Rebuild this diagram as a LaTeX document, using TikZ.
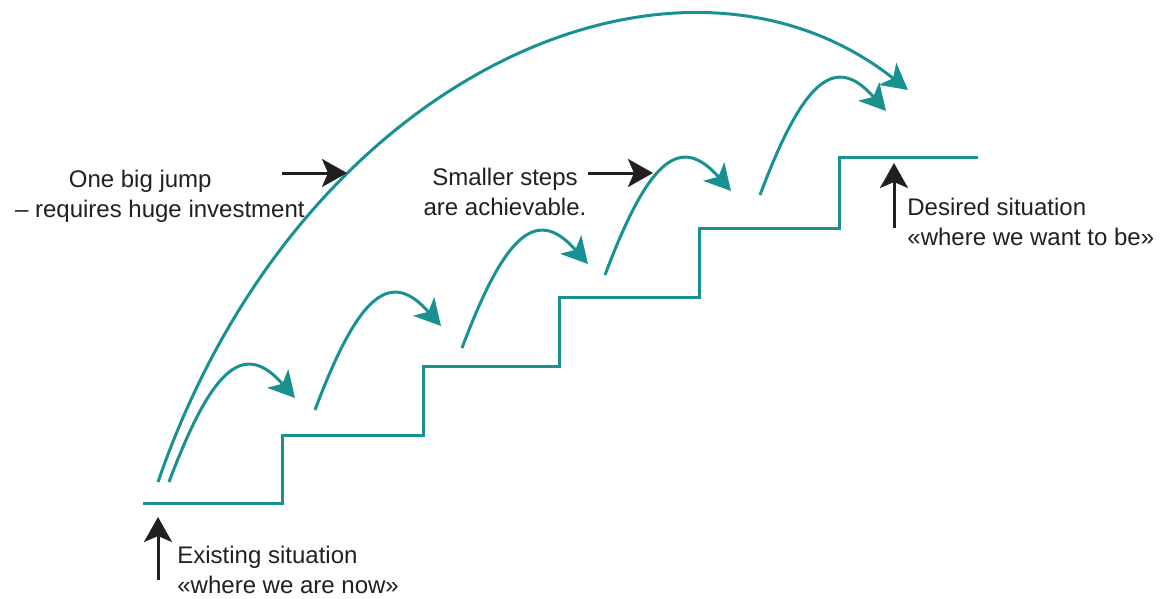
\documentclass[tikz,border=0pt]{standalone}
\usepackage{fontspec}
\setmainfont{Liberation Sans}
\usetikzlibrary{arrows.meta}
\definecolor{stairteal}{RGB}{26,145,145}
\definecolor{inkblack}{RGB}{35,31,32}

\begin{document}
\begin{tikzpicture}[x=0.5pt,y=-0.5pt,
    stair/.style={stairteal, line width=1.5pt},
    hop/.style={stairteal, line width=1.5pt, -{Stealth[length=13pt,width=14pt,inset=3.5pt]}},
    pointer/.style={inkblack, line width=1.5pt, -{Stealth[length=12.5pt,width=14pt,inset=3pt]}},
    note/.style={inkblack, inner sep=0pt, font=\fontsize{12}{15}\selectfont}]
  \useasboundingbox (0,0) rectangle (1162,599);

  \draw[stair] (143,503) -- (282,503) -- (282,435) -- (423,435) -- (423,366) -- (559,366)
    -- (559,297) -- (699,297) -- (699,228) -- (839,228) -- (839,158) -- (978,158);

  \coordinate (jumpa) at (158,482);
  \coordinate (jumpb) at (908,90);
  \draw[hop] (jumpa) .. controls (300,70) and (680,-90) .. (jumpb);

  \foreach \sx/\sy [count=\i] in {169/482,315/410,462/348,605/275,760/195}{
    \coordinate (hop\i a) at (\sx,\sy);
    \coordinate (hop\i b) at (\sx+126,\sy-84);
    \draw[hop] (hop\i a) .. controls +(45,-120) and +(-49.5,-56) .. (hop\i b);
  }

  \node[note, anchor=base east] (bigjump) at (212,187) {One big jump};
  \node[note, anchor=base east] (bigcost) at (305,217) {– requires huge investment};
  \node[note, anchor=base, align=center] (smaller) at (505,215) {Smaller steps\\are achievable.};
  \node[note, anchor=base west, align=left] (exist) at (177,593) {Existing situation\\«where we are now»};
  \node[note, anchor=base west, align=left] (desired) at (907,245) {Desired situation\\«where we want to be»};

  \coordinate (bigtail) at (282,173);
  \coordinate (bigtip) at (347,173);
  \coordinate (smalltail) at (588,173);
  \coordinate (smalltip) at (653,173);
  \coordinate (nowtail) at (158,580);
  \coordinate (nowtip) at (158,517);
  \coordinate (goaltail) at (894,228);
  \coordinate (goaltip) at (894,163);
  \draw[pointer] (bigtail) -- (bigtip);
  \draw[pointer] (smalltail) -- (smalltip);
  \draw[pointer] (nowtail) -- (nowtip);
  \draw[pointer] (goaltail) -- (goaltip);
\end{tikzpicture}
\end{document}
